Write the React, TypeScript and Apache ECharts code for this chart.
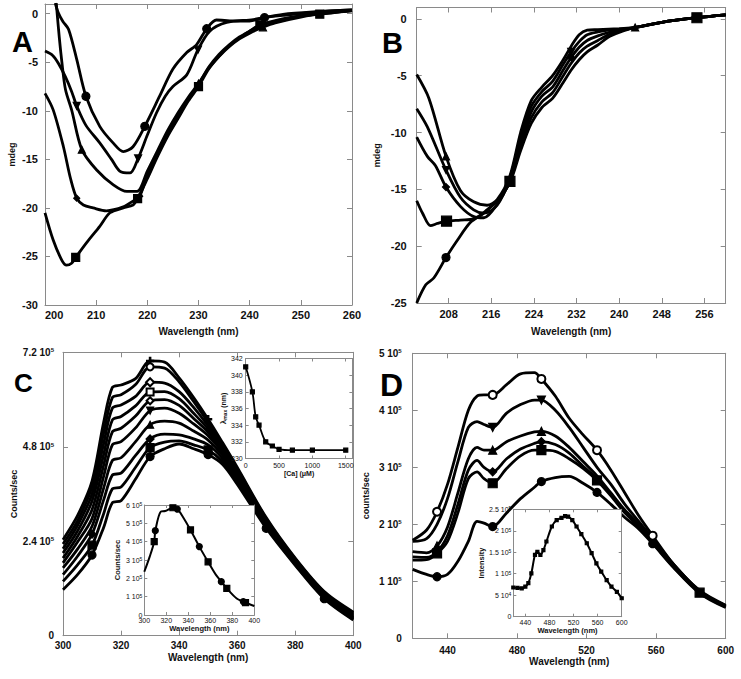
import React, { useEffect, useRef } from 'react';
import * as echarts from 'echarts';

const FONT = '"Liberation Sans", Arial, Helvetica, sans-serif';

// ---------- Panel A (CD spectra, mdeg) ----------
const aXTicks = [200, 210, 220, 230, 240, 250, 260];
const aYTicks = [-30, -25, -20, -15, -10, -5, 0];
const aCircleX = [202, 202.6, 203.5, 204.6, 206.2, 208, 210.7, 213.3, 215.3, 217.2, 219.5, 222.4, 225, 227.7, 229.6, 231.6, 233.5, 236.8, 240, 242.9, 246.5, 253, 260];
const aCircleY = [1.1, 0.1, -0.8, -1.6, -4.7, -8.5, -11.6, -13.3, -14.2, -13.7, -11.6, -8.5, -5.7, -4.0, -3.2, -1.55, -0.65, -0.75, -0.75, -0.4, -0.17, 0.17, 0.38];
const aCircleMarks = [208, 219.5, 231.6, 242.9];
const aTriDownX = [200, 201.5, 202.6, 204, 205.2, 206.2, 208, 210.7, 213, 214.6, 216.6, 218.2, 220, 221.8, 223.5, 225, 227.7, 229.9, 232.2, 235.5, 240.7, 246.5, 253, 260];
const aTriDownY = [-3.85, -4.3, -5.1, -6.5, -8.0, -9.5, -11.5, -13.3, -15.0, -16.2, -16.4, -14.9, -12.5, -10.2, -8.5, -7.5, -6.3, -3.7, -1.8, -0.9, -0.6, -0.07, 0.2, 0.38];
const aTriDownMarks = [206.2, 218.2, 229.9];
const aTriX = [202.2, 202.8, 203.3, 204, 205.2, 207.2, 210.1, 213.3, 216, 218, 220, 222, 224, 226, 228, 230, 232, 234, 236, 238, 240, 242.6, 245, 250, 255, 260];
const aTriY = [1.1, -2.5, -5.0, -7.8, -9.9, -14.0, -16.1, -17.6, -18.3, -18.3, -16.2, -14.1, -12.0, -10.2, -8.6, -7.2, -5.6, -4.4, -3.4, -2.6, -2.0, -1.4, -0.95, -0.35, 0.05, 0.3];
const aTriMarks = [207.2, 230, 242.6];
const aDiaX = [200, 201.6, 203.6, 205, 206.2, 207.5, 209.4, 212, 215.3, 217.2, 218.5, 220, 222, 224, 226, 228, 230, 232, 234, 236, 238, 240, 242, 245, 250, 255, 260];
const aDiaY = [-8.2, -9.9, -13.7, -17.0, -19.0, -19.7, -20.0, -20.3, -19.9, -19.3, -18.8, -16.6, -14.4, -12.3, -10.5, -8.8, -7.3, -5.5, -4.2, -3.2, -2.4, -1.8, -1.25, -0.8, -0.25, 0.1, 0.33];
const aDiaMarks = [206.2, 218.5];
const aSqX = [200, 201.6, 203.3, 204.2, 205.2, 206, 208.1, 210.7, 212.7, 215.3, 217.2, 218.1, 220, 222, 224, 226, 228, 230, 232, 234, 236, 238, 240, 242, 245, 250, 253.7, 260];
const aSqY = [-20.5, -23.3, -25.4, -25.9, -25.7, -25.1, -23.6, -21.9, -20.5, -20.0, -19.7, -19.05, -17.0, -14.7, -12.6, -10.8, -9.0, -7.5, -5.7, -4.4, -3.3, -2.5, -1.8, -1.15, -0.7, -0.2, -0.05, 0.35];
const aSqMarks = [206, 218.1, 230, 242, 253.7];

// ---------- Panel B ----------
const bXTicks = [208, 216, 224, 232, 240, 248, 256];
const bYTicks = [-25, -20, -15, -10, -5, 0];
const bTriX = [202, 204.3, 207.5, 210.2, 212.7, 215.2, 217.1, 219.5, 221.5, 223.5, 225.5, 227.5, 229.5, 231, 232.5, 234, 236, 238, 240, 243, 248, 254.6, 260];
const bTriY = [-4.9, -7.0, -12.1, -15.1, -16.1, -16.4, -15.9, -13.8, -10.0, -7.2, -6.0, -5.0, -3.6, -2.4, -1.4, -1.0, -0.95, -0.9, -0.85, -0.76, -0.3, 0.1, 0.35];
const bTriMarks = [207.5, 243];
const bTriDownX = [202, 204, 207.5, 210.2, 212.7, 214.6, 217.1, 219.5, 221.5, 223.5, 225.5, 227.5, 229.5, 231, 232.5, 234, 236, 238, 240, 243, 248, 254.6, 260];
const bTriDownY = [-7.9, -9.5, -13.3, -15.7, -16.8, -17.1, -16.4, -14.0, -10.4, -7.7, -6.4, -5.5, -4.0, -2.9, -2.0, -1.4, -1.15, -1.0, -0.95, -0.76, -0.3, 0.1, 0.35];
const bTriDownMarks = [207.5, 231];
const bDiaX = [202, 204, 205.5, 207.5, 210.2, 212.7, 214.6, 217.1, 219.5, 221.5, 223.5, 225.5, 227.5, 229.5, 231, 232.5, 234, 236, 238, 240, 243, 248, 254.6, 260];
const bDiaY = [-10.4, -12.1, -12.9, -14.8, -16.5, -17.4, -17.5, -16.3, -14.2, -10.8, -8.2, -6.8, -6.0, -4.5, -3.4, -2.5, -1.9, -1.5, -1.2, -1.0, -0.76, -0.3, 0.1, 0.35];
const bDiaMarks = [207.5, 231];
const bSqX = [202, 203.1, 204.6, 205.9, 207.6, 210.2, 212.7, 215.2, 217.7, 219.5, 221.5, 223.5, 225.5, 227.5, 229.5, 231, 232.5, 234, 236, 238, 240, 243, 248, 254.6, 260];
const bSqY = [-16.0, -17.1, -18.2, -18.0, -17.8, -17.7, -17.6, -16.8, -15.7, -14.3, -11.2, -8.7, -7.3, -6.5, -5.0, -3.9, -3.0, -2.4, -1.9, -1.4, -1.1, -0.76, -0.3, 0.1, 0.35];
const bSqMarks = [207.6, 219.5, 254.6];
const bCircX = [202, 203.7, 205.2, 207.5, 209.6, 212.1, 214.6, 217.1, 219.5, 221.5, 223.5, 225.5, 227.5, 229.5, 231, 232.5, 234, 236, 238, 240, 243, 248, 254.6, 260];
const bCircY = [-25.0, -23.4, -22.8, -21.0, -19.5, -17.9, -17.1, -16.0, -14.4, -11.6, -9.2, -7.8, -7.0, -5.6, -4.5, -3.6, -2.9, -2.3, -1.6, -1.2, -0.76, -0.3, 0.1, 0.35];
const bCircMarks = [207.5];

// ---------- Panel C (fluorescence, units of 10^5 counts/sec) ----------
const cXTicks = [300, 320, 340, 360, 380, 400];
const cYTicks = [0, 2.4, 4.8, 7.2];
const cYLabels = ['0', '2.4 10^5', '4.8 10^5', '7.2 10^5'];
const cWl = [300, 305, 310, 314, 317, 320, 325, 330, 335, 340, 345, 350, 355, 360, 370, 380, 390, 400];
const c1 = [2.44, 3.05, 3.93, 5.42, 6.31, 6.37, 6.53, 6.98, 6.95, 6.55, 6.05, 5.5, 4.9, 4.28, 3.0, 1.97, 1.12, 0.6];
const c2 = [2.33, 2.92, 3.78, 5.15, 6.05, 6.12, 6.38, 6.83, 6.8, 6.45, 5.95, 5.42, 4.85, 4.24, 2.97, 1.95, 1.1, 0.58];
const c3 = [2.21, 2.8, 3.6, 4.88, 5.78, 5.86, 6.08, 6.44, 6.42, 6.2, 5.8, 5.33, 4.8, 4.2, 2.94, 1.93, 1.08, 0.55];
const c4 = [2.10, 2.66, 3.42, 4.6, 5.48, 5.57, 5.84, 6.19, 6.2, 6.02, 5.65, 5.25, 4.75, 4.15, 2.91, 1.91, 1.06, 0.53];
const c5 = [1.97, 2.52, 3.2, 4.33, 5.18, 5.27, 5.58, 5.97, 6.0, 5.85, 5.52, 5.17, 4.7, 4.1, 2.88, 1.89, 1.04, 0.5];
const c6 = [1.85, 2.38, 2.98, 4.05, 4.85, 4.93, 5.28, 5.72, 5.78, 5.65, 5.38, 5.08, 4.65, 4.05, 2.85, 1.87, 1.02, 0.48];
const c7 = [1.72, 2.2, 2.78, 3.75, 4.45, 4.52, 4.93, 5.36, 5.45, 5.4, 5.2, 4.97, 4.58, 4.0, 2.82, 1.85, 1.0, 0.46];
const c8 = [1.55, 2.02, 2.58, 3.45, 4.08, 4.13, 4.58, 5.0, 5.12, 5.1, 5.0, 4.85, 4.5, 3.95, 2.79, 1.83, 0.98, 0.44];
const c9 = [1.38, 1.8, 2.3, 3.1, 3.73, 3.78, 4.28, 4.78, 4.92, 4.95, 4.85, 4.72, 4.42, 3.9, 2.76, 1.81, 0.96, 0.42];
const c10 = [1.17, 1.55, 2.05, 2.75, 3.38, 3.43, 3.98, 4.55, 4.75, 4.87, 4.75, 4.6, 4.35, 3.85, 2.73, 1.79, 0.94, 0.4];

// inset: lambda max vs [Ca]
const caXTicks = [0, 500, 1000, 1500];
const caYTicks = [330, 332, 334, 336, 338, 340, 342];
const caConc = [0, 100, 150, 200, 300, 400, 500, 700, 1000, 1500];
const caLambda = [341, 338, 335, 334, 332, 331.5, 331.1, 331, 331, 331];

// inset: single spectrum
const ciXTicks = [300, 320, 340, 360, 380, 400];
const ciYTicks = [0, 1, 2, 3, 4, 5, 6];
const ciYLabels = ['0', '1 10^5', '2 10^5', '3 10^5', '4 10^5', '5 10^5', '6 10^5'];
const ciWl = [300, 305, 309, 310, 315, 319, 326, 330, 335, 342, 350, 358, 365, 370, 375, 384, 390, 392, 400];
const ciVal = [2.36, 3.2, 4.0, 4.6, 5.64, 5.67, 5.85, 5.78, 5.36, 4.64, 3.73, 2.9, 2.2, 1.82, 1.45, 0.9, 0.73, 0.67, 0.49];
const ciSquares = [309, 326, 342, 358, 375, 392];
const ciCircles = [310, 330, 350, 370, 390];

// ---------- Panel D ----------
const dXTicks = [440, 480, 520, 560, 600];
const dYTicks = [0, 1, 2, 3, 4, 5];
const dYLabels = ['0', '1 10^5', '2 10^5', '3 10^5', '4 10^5', '5 10^5'];
const dWl = [420, 428, 434, 440, 446, 452, 457, 461, 466, 474, 482, 490, 494, 502, 510, 518, 526, 534, 542, 550, 558, 570, 585, 600];
const d1 = [1.72, 1.9, 2.22, 2.7, 3.35, 4.0, 4.25, 4.27, 4.27, 4.45, 4.64, 4.66, 4.55, 4.25, 3.86, 3.57, 3.3, 2.95, 2.55, 2.15, 1.8, 1.3, 0.84, 0.58];
const d2 = [1.7, 1.75, 2.0, 2.45, 3.1, 3.7, 3.8, 3.75, 3.7, 3.95, 4.1, 4.18, 4.18, 4.0, 3.7, 3.35, 3.0, 2.7, 2.35, 2.05, 1.75, 1.3, 0.83, 0.57];
const d3 = [1.52, 1.5, 1.62, 1.95, 2.55, 3.15, 3.35, 3.3, 3.3, 3.45, 3.55, 3.62, 3.63, 3.55, 3.35, 3.1, 2.85, 2.55, 2.25, 2.0, 1.72, 1.28, 0.82, 0.56];
const d4 = [1.43, 1.42, 1.52, 1.8, 2.35, 2.95, 3.12, 3.0, 2.92, 3.15, 3.32, 3.42, 3.45, 3.4, 3.25, 3.02, 2.8, 2.52, 2.22, 1.98, 1.7, 1.27, 0.81, 0.55];
const d5 = [1.37, 1.38, 1.49, 1.7, 2.2, 2.8, 2.92, 2.8, 2.72, 2.98, 3.2, 3.3, 3.3, 3.28, 3.15, 2.98, 2.77, 2.5, 2.2, 1.96, 1.68, 1.25, 0.8, 0.55];
const d6 = [1.21, 1.12, 1.08, 1.12, 1.35, 1.7, 2.05, 2.02, 1.96, 2.2, 2.45, 2.65, 2.75, 2.82, 2.84, 2.72, 2.56, 2.35, 2.12, 1.92, 1.66, 1.24, 0.79, 0.54];

// inset D
const diXTicks = [440, 480, 520, 560, 600];
const diYTicks = [0, 0.5, 1, 1.5, 2, 2.5];
const diYLabels = ['0', '5 10^4', '1 10^5', '1.5 10^5', '2 10^5', '2.5 10^5'];
const diWl = [420, 427, 434, 440, 445, 450, 456, 460, 465, 470, 475, 484, 492, 500, 506, 511, 518, 525, 533, 542, 550, 558, 566, 575, 583, 592, 600];
const diVal = [0.68, 0.67, 0.66, 0.7, 0.78, 1.01, 1.44, 1.51, 1.44, 1.55, 1.75, 2.1, 2.25, 2.3, 2.34, 2.33, 2.25, 2.1, 1.92, 1.71, 1.48, 1.24, 1.05, 0.85, 0.7, 0.58, 0.43];

const PLUS = 'path://M4,0h2v4h4v2h-4v4h-2v-4h-4v-2h4z';

function sciRich(s: string) {
  const m = s.split('^');
  return m.length === 2 ? `${m[0]}{s|${m[1]}}` : s;
}

function buildOption() {
  const grids: any[] = [];
  const xAxes: any[] = [];
  const yAxes: any[] = [];
  const series: any[] = [];

  function addPanel(p: any) {
    const gi = grids.length;
    const z = p.z ?? 0;
    grids.push({
      left: p.left, top: p.top, width: p.width, height: p.height,
      show: true, backgroundColor: p.bg ? '#fff' : 'transparent', borderWidth: 0, z,
    });
    const line = { show: true, onZero: false, lineStyle: { color: '#8a8a8a', width: 1 } };
    const tick = (vals: number[]) => ({ show: true, inside: true, length: p.tickLen, customValues: vals, lineStyle: { color: '#8a8a8a', width: 1 } });
    const labelStyle = {
      fontSize: p.labelSize, fontWeight: p.labelWeight, color: '#111', fontFamily: FONT,
      rich: { s: { fontSize: p.supSize, fontWeight: p.labelWeight, color: '#111', fontFamily: FONT, verticalAlign: 'top' } },
    };
    const nameStyle = { fontSize: p.nameSize, fontWeight: 'bold', color: '#111', fontFamily: FONT, rich: p.nameRich };
    const fmt = (ticks: number[], labels?: string[]) => (v: number) => {
      const i = ticks.indexOf(v);
      if (i < 0) return '';
      return labels ? sciRich(labels[i]) : String(v);
    };
    const xi = xAxes.length;
    const yi = yAxes.length;
    xAxes.push({
      gridIndex: gi, type: 'value', position: 'bottom', min: p.xMin, max: p.xMax, z,
      axisLine: line, axisTick: tick(p.xTicks), splitLine: { show: false },
      axisLabel: { ...labelStyle, customValues: p.xTicks, interval: 0, margin: p.xLabelMargin, formatter: fmt(p.xTicks, p.xLabels), alignMinLabel: p.alignMinX },
      name: p.xName, nameLocation: 'middle', nameGap: p.xNameGap, nameTextStyle: nameStyle,
    });
    xAxes.push({
      gridIndex: gi, type: 'value', position: 'top', min: p.xMin, max: p.xMax, z,
      axisLine: line, axisTick: tick(p.xTicks), splitLine: { show: false }, axisLabel: { show: false },
    });
    yAxes.push({
      gridIndex: gi, type: 'value', position: 'left', min: p.yMin, max: p.yMax, z,
      axisLine: line, axisTick: tick(p.yTicks), splitLine: { show: false },
      axisLabel: { ...labelStyle, customValues: p.yTicks, interval: 0, margin: p.yLabelMargin, formatter: fmt(p.yTicks, p.yLabels) },
      name: p.yName, nameLocation: 'middle', nameGap: p.yNameGap, nameTextStyle: { ...nameStyle, fontSize: p.yNameSize ?? p.nameSize },
    });
    yAxes.push({
      gridIndex: gi, type: 'value', position: 'right', min: p.yMin, max: p.yMax, z,
      axisLine: line, axisTick: tick(p.yTicks), splitLine: { show: false }, axisLabel: { show: false },
    });
    return { xi, yi, z };
  }

  function addCurve(ax: any, xs: number[], ys: number[], symbolAt: (x: number) => string | null, o: any = {}) {
    series.push({
      type: 'line', xAxisIndex: ax.xi, yAxisIndex: ax.yi,
      data: xs.map((x, i) => {
        const s = symbolAt(x);
        return s ? { value: [x, ys[i]], symbol: s } : { value: [x, ys[i]], symbol: 'none' };
      }),
      smooth: o.smooth ?? 0.3,
      showSymbol: true, showAllSymbol: true,
      symbolSize: o.size ?? 7, symbolRotate: o.rotate ?? 0,
      lineStyle: { color: '#000', width: o.width ?? 2.8 },
      itemStyle: { color: '#000', borderColor: '#000', borderWidth: 1.2 },
      z: (ax.z ?? 0) + 3, clip: true, silent: true,
    });
  }
  const at = (marks: number[], sym: string) => (x: number) => (marks.includes(x) ? sym : null);

  // Panel A
  const A = addPanel({
    left: 45, top: 4, width: 307, height: 301,
    xMin: 200, xMax: 260, xTicks: aXTicks, yMin: -30, yMax: 1, yTicks: aYTicks,
    tickLen: 5, labelSize: 11, labelWeight: 'bold', supSize: 7, nameSize: 10, yNameSize: 9,
    xLabelMargin: 4, yLabelMargin: 7, xName: 'Wavelength (nm)', xNameGap: 21, yName: 'mdeg', yNameGap: 29,
    alignMinX: 'left',
  });
  addCurve(A, aCircleX, aCircleY, at(aCircleMarks, 'circle'), { size: 8 });
  addCurve(A, aTriDownX, aTriDownY, at(aTriDownMarks, 'triangle'), { size: 7, rotate: 180 });
  addCurve(A, aTriX, aTriY, at(aTriMarks, 'triangle'), { size: 7 });
  addCurve(A, aDiaX, aDiaY, at(aDiaMarks, 'diamond'), { size: 6 });
  addCurve(A, aSqX, aSqY, at(aSqMarks, 'rect'), { size: 8 });

  // Panel B
  const B = addPanel({
    left: 416.7, top: 7.5, width: 309, height: 295.5,
    xMin: 202, xMax: 260, xTicks: bXTicks, yMin: -25, yMax: 1, yTicks: bYTicks,
    tickLen: 5, labelSize: 11, labelWeight: 'bold', supSize: 7, nameSize: 10, yNameSize: 9,
    xLabelMargin: 5, yLabelMargin: 10, xName: 'Wavelength (nm)', xNameGap: 23, yName: 'mdeg', yNameGap: 35,
  });
  addCurve(B, bTriX, bTriY, at(bTriMarks, 'triangle'), { size: 7 });
  addCurve(B, bTriDownX, bTriDownY, at(bTriDownMarks, 'triangle'), { size: 7, rotate: 180 });
  addCurve(B, bDiaX, bDiaY, at(bDiaMarks, 'diamond'), { size: 7 });
  addCurve(B, bSqX, bSqY, at(bSqMarks, 'rect'), { size: 10 });
  addCurve(B, bCircX, bCircY, at(bCircMarks, 'circle'), { size: 8 });

  // Panel C
  const C = addPanel({
    left: 63, top: 352.3, width: 290.3, height: 283.4,
    xMin: 300, xMax: 400, xTicks: cXTicks, yMin: 0, yMax: 7.2, yTicks: cYTicks, yLabels: cYLabels,
    tickLen: 5, labelSize: 10, labelWeight: 'bold', supSize: 6, nameSize: 10, yNameSize: 9,
    xLabelMargin: 5, yLabelMargin: 9, xName: 'Wavelength (nm)', xNameGap: 17, yName: 'Counts/sec', yNameGap: 42,
  });
  const cw = 2.8;
  addCurve(C, cWl, c1, at([330, 350], PLUS), { size: 7, width: cw });
  addCurve(C, cWl, c2, at([330], 'emptyCircle'), { size: 7, width: cw });
  addCurve(C, cWl, c3, at([330], 'emptyDiamond'), { size: 8, width: cw });
  addCurve(C, cWl, c4, at([330], 'emptyRect'), { size: 7, width: cw });
  addCurve(C, cWl, c5, at([330], 'emptyDiamond'), { size: 7, width: cw });
  addCurve(C, cWl, c6, at([330], 'triangle'), { size: 7, rotate: 180, width: cw });
  addCurve(C, cWl, c7, at([330], 'triangle'), { size: 7, width: cw });
  addCurve(C, cWl, c8, at([310, 330], 'diamond'), { size: 8, width: cw });
  addCurve(C, cWl, c9, at([310, 330, 350], 'rect'), { size: 8, width: cw });
  addCurve(C, cWl, c10, at([310, 330, 350, 370, 390], 'circle'), { size: 8, width: cw });

  // C inset (top): lambda max
  const CI1 = addPanel({
    left: 245.7, top: 358.5, width: 106.7, height: 100, bg: true, z: 10,
    xMin: 0, xMax: 1600, xTicks: caXTicks, yMin: 330, yMax: 342, yTicks: caYTicks,
    tickLen: 3, labelSize: 7, labelWeight: 'normal', supSize: 5, nameSize: 7,
    xLabelMargin: 3, yLabelMargin: 3, xName: '[Ca] (μM)', xNameGap: 11,
    yName: '{l|λ}{m|max} (nm)', yNameGap: 16,
    nameRich: { l: { fontSize: 8, fontWeight: 'bold', fontFamily: FONT }, m: { fontSize: 5, fontFamily: FONT, verticalAlign: 'bottom' } },
  });
  addCurve(CI1, caConc, caLambda, () => 'rect', { size: 4, width: 1.8, smooth: 0.35 });

  // C inset (bottom): spectrum
  const CI2 = addPanel({
    left: 144.3, top: 505, width: 110, height: 110, bg: true, z: 10,
    xMin: 300, xMax: 400, xTicks: ciXTicks, yMin: 0, yMax: 6, yTicks: ciYTicks, yLabels: ciYLabels,
    tickLen: 3, labelSize: 7, labelWeight: 'normal', supSize: 5, nameSize: 7.5,
    xLabelMargin: 2, yLabelMargin: 2, xName: 'Wavelength (nm)', xNameGap: 7, yName: 'Counts/sec', yNameGap: 18,
  });
  addCurve(CI2, ciWl, ciVal, (x) => (ciSquares.includes(x) ? 'rect' : ciCircles.includes(x) ? 'circle' : null), { size: 6, width: 2 });

  // Panel D
  const D = addPanel({
    left: 412.7, top: 353.3, width: 313, height: 285,
    xMin: 420, xMax: 600, xTicks: dXTicks, yMin: 0, yMax: 5, yTicks: dYTicks, yLabels: dYLabels,
    tickLen: 5, labelSize: 10, labelWeight: 'bold', supSize: 6, nameSize: 10, yNameSize: 9,
    xLabelMargin: 7, yLabelMargin: 11, xName: 'Wavelength (nm)', xNameGap: 15, yName: 'counts/sec', yNameGap: 42,
  });
  const dw = 2.8;
  addCurve(D, dWl, d1, at([434, 466, 494, 526, 558], 'emptyCircle'), { size: 8, width: dw });
  addCurve(D, dWl, d2, at([466, 494], 'triangle'), { size: 8, rotate: 180, width: dw });
  addCurve(D, dWl, d3, at([434, 466, 494], 'triangle'), { size: 8, width: dw });
  addCurve(D, dWl, d4, at([466, 494], 'diamond'), { size: 8, width: dw });
  addCurve(D, dWl, d5, at([434, 466, 494, 526, 585], 'rect'), { size: 9, width: dw });
  addCurve(D, dWl, d6, at([434, 466, 494, 526, 558], 'circle'), { size: 8, width: dw });

  // D inset
  const DI = addPanel({
    left: 513.3, top: 509.3, width: 108.4, height: 107.4, bg: true, z: 10,
    xMin: 420, xMax: 600, xTicks: diXTicks, yMin: 0, yMax: 2.5, yTicks: diYTicks, yLabels: diYLabels,
    tickLen: 3, labelSize: 7, labelWeight: 'normal', supSize: 5, nameSize: 7.5,
    xLabelMargin: 2, yLabelMargin: 2, xName: 'Wavelength (nm)', xNameGap: 7, yName: 'Intensity', yNameGap: 17,
  });
  addCurve(DI, diWl, diVal, () => 'rect', { size: 3, width: 2 });

  const letter = (t: string, x: number, y: number, size: number) => ({
    type: 'text', left: x, top: y, z: 100,
    style: { text: t, font: `bold ${size}px ${FONT}`, fill: '#000' },
  });

  return {
    animation: false,
    backgroundColor: '#fff',
    grid: grids,
    xAxis: xAxes,
    yAxis: yAxes,
    series,
    graphic: [
      letter('A', 12, 27, 29),
      letter('B', 382, 28, 29),
      letter('C', 14, 370, 26),
      letter('D', 380, 369, 32),
    ],
  };
}

export default function App() {
  const ref = useRef<HTMLDivElement>(null);
  useEffect(() => {
    document.body.style.margin = '0';
    const chart = echarts.init(ref.current!, null, { renderer: 'svg' });
    chart.setOption(buildOption() as any);
    return () => chart.dispose();
  }, []);
  return <div ref={ref} style={{ width: 741, height: 679 }} />;
}
